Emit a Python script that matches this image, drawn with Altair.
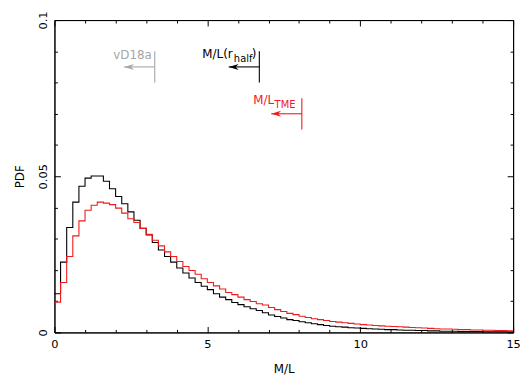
import altair as alt
import pandas as pd
import numpy as np

# ---------------- data ----------------
bin_width = 0.2
black_pdf = [0.0124, 0.0225, 0.0336, 0.0417, 0.0468, 0.0494, 0.0501, 0.0501, 0.0484, 0.0460,
             0.0435, 0.0412, 0.0386, 0.0359, 0.0333, 0.0312, 0.0288, 0.0264, 0.0243, 0.0225,
             0.0206, 0.0190, 0.0174, 0.0160, 0.0148, 0.0137, 0.0124, 0.0113, 0.0105, 0.0096,
             0.0089, 0.0082, 0.0076, 0.0070, 0.0063, 0.0056, 0.0051, 0.0046, 0.0041, 0.0038,
             0.0034, 0.0031, 0.0028, 0.0025, 0.0022, 0.0020, 0.0018, 0.0017, 0.0015, 0.0014,
             0.0013, 0.0012, 0.0011, 0.0010, 0.0009, 0.0009, 0.0008, 0.0007, 0.0007, 0.0006,
             0.0006, 0.0005, 0.0005, 0.0004, 0.0004, 0.0004, 0.0003, 0.0003, 0.0003, 0.0003,
             0.0002, 0.0002, 0.0002, 0.0002, 0.0002]
red_pdf = [0.0097, 0.0160, 0.0243, 0.0309, 0.0357, 0.0391, 0.0407, 0.0417, 0.0414, 0.0409,
           0.0398, 0.0382, 0.0364, 0.0352, 0.0333, 0.0314, 0.0295, 0.0277, 0.0258, 0.0243,
           0.0227, 0.0211, 0.0198, 0.0186, 0.0172, 0.0160, 0.0149, 0.0139, 0.0128, 0.0121,
           0.0113, 0.0105, 0.0099, 0.0092, 0.0088, 0.0080, 0.0073, 0.0067, 0.0061, 0.0057,
           0.0052, 0.0048, 0.0044, 0.0041, 0.0038, 0.0035, 0.0033, 0.0031, 0.0029, 0.0027,
           0.0025, 0.0024, 0.0022, 0.0021, 0.0020, 0.0019, 0.0018, 0.0017, 0.0016, 0.0015,
           0.0014, 0.0013, 0.0012, 0.0011, 0.0011, 0.0010, 0.0009, 0.0009, 0.0008, 0.0008,
           0.0007, 0.0007, 0.0006, 0.0006, 0.0005]

x_tick_values = list(range(0, 16))
y_tick_values = [0, 0.01, 0.02, 0.03, 0.04, 0.05, 0.06, 0.07, 0.08, 0.09, 0.1]

# annotations: vertical marker position, arrow height, arrow length, marker half-height
ann_x = [3.28, 6.70, 8.09]
ann_y = [0.085, 0.085, 0.070]
ann_len = [1.0, 1.0, 1.0]
ann_half = [0.005, 0.005, 0.005]
ann_color = ["#a6a6a6", "#000000", "#ee1c1c"]
ann_main = ["vD18a", "M/L(r", "M/L"]
ann_sub = ["", "half", "TME"]
ann_tail = ["", ")", ""]

x_title = "M/L"
y_title = "PDF"

# ---------------- tables ----------------
edges = np.round(np.arange(len(black_pdf) + 1) * bin_width, 1)
black_df = pd.DataFrame({"x": edges, "y": black_pdf + [black_pdf[-1]]})
red_df = pd.DataFrame({"x": edges, "y": red_pdf + [red_pdf[-1]]})

ann_df = pd.DataFrame({
    "idx": list(range(len(ann_x))),
    "x": ann_x,
    "y": ann_y,
    "x0": [a - l for a, l in zip(ann_x, ann_len)],
    "ylo": [a - h for a, h in zip(ann_y, ann_half)],
    "yhi": [a + h for a, h in zip(ann_y, ann_half)],
    "color": ann_color,
})

FONT = "DejaVu Sans"
xs = alt.Scale(domain=[0, 15], nice=False, zero=False)
ys = alt.Scale(domain=[0, 0.1], nice=False, zero=False)

x_tick_len = {"expr": "datum.value % 5 === 0 ? -6 : -3"}
y_tick_len = {"expr": "round(datum.value * 100) % 5 === 0 ? -6 : -3"}

x_bottom = alt.Axis(values=x_tick_values, tickSize=x_tick_len, grid=False, title=x_title,
                    labelExpr="datum.value % 5 === 0 ? datum.label : ''",
                    labelFlush=False, labelOverlap=False, labelPadding=12,
                    labelFontSize=11.5, titleFontSize=12, titlePadding=11, orient="bottom")
y_left = alt.Axis(values=y_tick_values, tickSize=y_tick_len, grid=False, title=y_title,
                  format="~g",
                  labelExpr="round(datum.value * 100) % 5 === 0 ? datum.label : ''",
                  labelFlush=False, labelOverlap=False, labelAngle=270, labelAlign="center",
                  labelBaseline="alphabetic", labelPadding=14,
                  labelFontSize=11.5, titleFontSize=12, titlePadding=8, orient="left")
x_top = alt.Axis(values=x_tick_values, tickSize=x_tick_len, grid=False, title=None,
                 labels=False, orient="top")
y_right = alt.Axis(values=y_tick_values, tickSize=y_tick_len, grid=False, title=None,
                   labels=False, orient="right")

black_line = alt.Chart(black_df).mark_line(interpolate="step-after", color="black",
                                           strokeWidth=1.1).encode(
    x=alt.X("x:Q", scale=xs, axis=x_bottom),
    y=alt.Y("y:Q", scale=ys, axis=y_left),
)
red_line = alt.Chart(red_df).mark_line(interpolate="step-after", color="#ee1c1c",
                                       strokeWidth=1.1).encode(
    x=alt.X("x:Q", scale=xs, axis=x_top),
    y=alt.Y("y:Q", scale=ys, axis=y_right),
)

base = alt.Chart(ann_df)
vbar = base.mark_rule(strokeWidth=1.1).encode(
    x=alt.X("x:Q", scale=xs, axis=None),
    y=alt.Y("ylo:Q", scale=ys, axis=None),
    y2="yhi:Q",
    color=alt.Color("color:N", scale=None),
)
shaft = base.mark_rule(strokeWidth=1.1).encode(
    x=alt.X("x0:Q", scale=xs, axis=None),
    x2="x:Q",
    y=alt.Y("y:Q", scale=ys, axis=None),
    color=alt.Color("color:N", scale=None),
)
head = base.mark_point(shape="M -1 0 L 1 -0.6 L 0.4 0 L 1 0.6 Z", size=100, filled=True,
                       opacity=1, xOffset=5, strokeWidth=0).encode(
    x=alt.X("x0:Q", scale=xs, axis=None),
    y=alt.Y("y:Q", scale=ys, axis=None),
    color=alt.Color("color:N", scale=None),
)


def piece(i, text, size, dx, dy):
    return base.transform_filter(alt.datum.idx == i).mark_text(
        align="right", baseline="alphabetic", font=FONT, fontSize=size, dx=dx, dy=dy
    ).encode(
        x=alt.X("x:Q", scale=xs, axis=None),
        y=alt.Y("y:Q", scale=ys, axis=None),
        text=alt.value(text),
        color=alt.Color("color:N", scale=None),
    )


texts = [
    piece(0, ann_main[0], 12, -3, -8),
    piece(1, ann_main[1], 12, -27, -9),
    piece(1, ann_sub[1], 10, -7, -4.5),
    piece(1, ann_tail[1], 12, -3, -9),
    piece(2, ann_main[2], 12, -28, -10),
    piece(2, ann_sub[2], 10, -6.5, -5.5),
]

chart = alt.layer(black_line, red_line, vbar, shaft, head, *texts).resolve_axis(
    x="independent", y="independent"
).properties(
    width=464, height=316,
    autosize=alt.AutoSizeParams(type="none"),
    padding={"left": 47, "top": 10, "right": 10, "bottom": 52},
).configure_axis(
    labelFont=FONT, titleFont=FONT, labelColor="black", titleColor="black",
    domainColor="black", tickColor="black", titleFontWeight="normal",
    domainWidth=1, tickWidth=1,
).configure_view(stroke="black", strokeWidth=1)

chart.save("out.html", embed_options={"renderer": "svg", "actions": False})
